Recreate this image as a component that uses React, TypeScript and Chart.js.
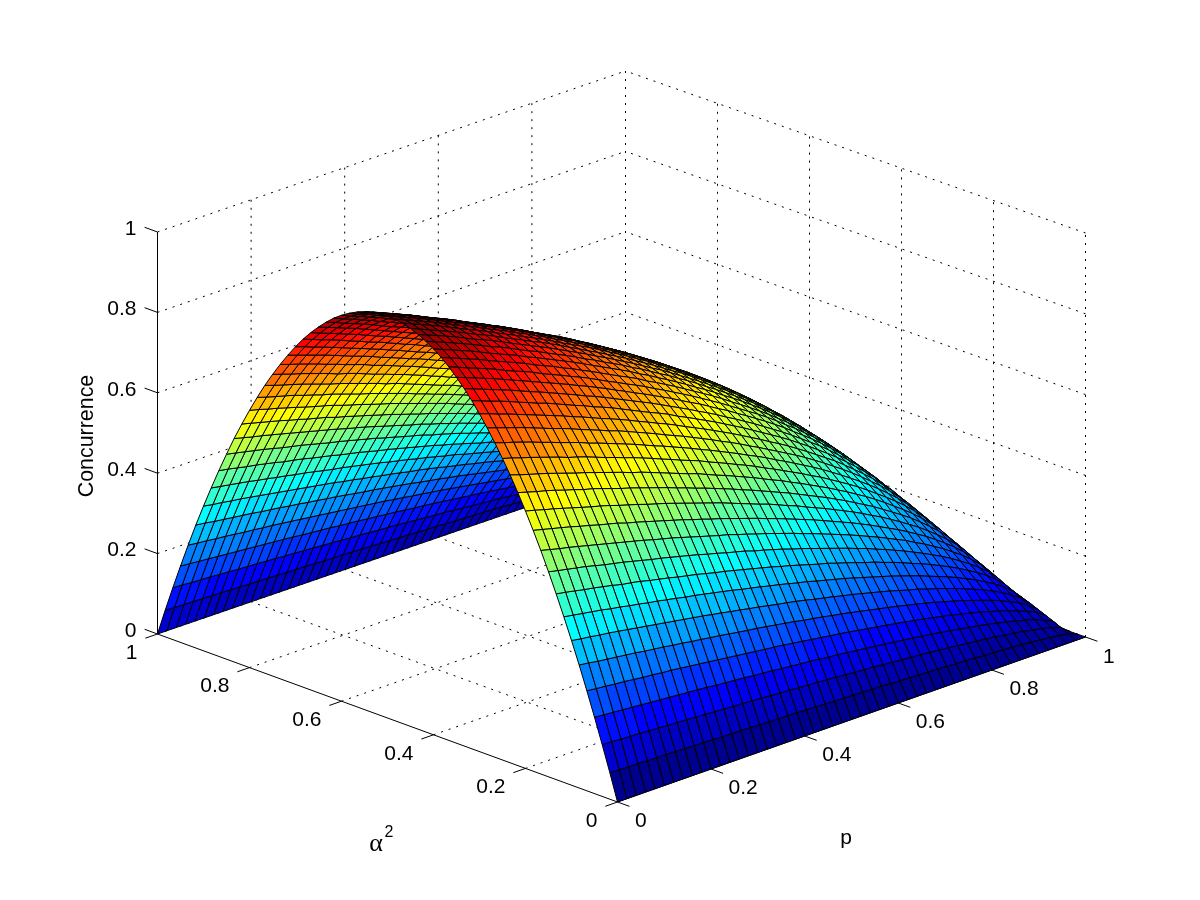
import React, { useEffect, useRef } from "react";
import { Chart, registerables } from "chart.js";

Chart.register(...registerables);

// Concurrence x 1000. Rows: alpha^2 = 0 .. 0.5 in steps of 1/60; columns: p = 0 .. 1 in steps of 0.02.
// Rows above alpha^2 = 0.5 mirror these, as the reference surface looks symmetric in alpha^2.
const concurrenceRows: number[][] = [
[0,0,0,0,0,0,0,0,0,0,0,0,0,0,0,0,0,0,0,0,0,0,0,0,0,0,0,0,0,0,0,0,0,0,0,0,0,0,0,0,0,0,0,0,0,0,0,0,0,0,0],
[66,65,64,64,63,62,62,61,60,59,59,58,57,56,56,55,54,53,52,52,51,50,49,48,47,46,45,44,43,43,41,40,39,38,37,36,35,33,32,31,29,28,26,25,23,21,19,16,13,9,0],
[129,128,126,125,124,122,121,119,118,117,115,114,112,111,109,108,106,105,103,101,100,98,96,95,93,91,89,87,85,84,81,79,77,75,73,71,68,66,63,60,58,55,52,48,45,41,36,32,26,18,0],
[190,188,186,184,182,180,178,176,174,172,170,168,166,163,161,159,157,154,152,150,147,145,142,140,137,134,132,129,126,123,120,117,114,111,108,104,101,97,93,89,85,81,76,71,66,60,54,47,38,27,0],
[249,246,244,241,239,236,233,231,228,226,223,220,217,214,211,208,205,202,199,196,193,190,186,183,179,176,172,169,165,161,157,153,149,145,141,136,132,127,122,117,111,106,100,93,86,79,70,61,50,35,0],
[306,303,299,296,293,290,287,283,280,277,273,270,266,263,259,256,252,248,244,241,237,233,229,225,220,216,212,207,203,198,193,188,183,178,173,167,162,156,150,143,137,130,122,114,106,97,86,75,61,43,0],
[360,356,353,349,346,342,338,334,330,326,322,318,314,310,306,301,297,292,288,283,279,274,269,265,260,255,249,244,239,233,228,222,216,210,204,197,190,184,176,169,161,153,144,135,125,114,102,88,72,51,0],
[412,408,404,400,396,391,387,382,378,373,369,364,359,354,350,345,340,335,330,324,319,314,308,303,297,291,286,279,273,267,261,254,247,240,233,226,218,210,202,193,184,175,165,154,143,130,117,101,82,58,0],
[462,458,453,448,444,439,434,428,424,419,413,408,403,397,392,387,381,375,370,364,358,352,346,340,333,327,320,313,306,300,292,285,277,269,262,253,245,236,226,217,207,196,185,173,160,146,131,113,92,65,0],
[510,505,500,495,490,484,478,473,468,462,456,450,445,439,433,427,421,414,408,401,395,389,381,375,368,361,353,346,338,330,322,314,306,297,289,279,270,260,250,239,228,216,204,191,176,161,144,125,102,72,0],
[556,550,544,539,533,527,521,515,509,503,497,491,484,478,472,465,458,451,444,437,431,423,416,408,401,393,385,377,368,360,351,342,333,324,314,304,294,283,272,261,248,236,222,208,192,176,157,136,111,78,0],
[599,593,587,581,575,568,562,555,549,543,535,529,522,515,508,501,494,486,479,471,464,456,448,440,432,423,415,406,397,388,379,369,359,349,339,328,317,305,293,281,268,254,240,224,207,189,169,147,120,84,0],
[640,634,627,621,614,607,600,593,587,580,572,565,558,550,543,536,528,520,512,504,496,488,479,470,461,452,444,434,424,415,404,394,384,373,362,351,339,326,314,300,286,271,256,239,221,202,181,157,128,90,0],
[679,672,665,659,652,644,637,629,623,615,607,599,592,584,576,568,560,551,543,534,526,517,508,499,489,480,470,460,450,440,429,418,407,396,384,372,359,346,333,318,303,288,272,254,235,215,192,166,136,96,0],
[716,708,701,694,687,679,671,663,656,648,640,632,624,615,608,599,590,581,572,563,555,545,535,526,516,506,496,485,474,464,452,441,429,417,405,392,379,365,351,336,320,303,286,268,248,226,203,175,143,101,0],
[750,743,735,728,720,712,704,695,688,680,671,662,654,645,637,628,619,609,600,590,581,572,561,551,541,530,520,509,497,486,474,462,450,437,425,411,397,383,368,352,335,318,300,281,260,237,212,184,150,106,0],
[782,774,767,759,751,742,734,725,717,709,699,691,682,673,664,655,645,635,626,616,606,596,585,575,564,553,542,530,519,507,494,482,469,456,443,429,414,399,383,367,350,332,313,293,271,247,221,192,156,110,0],
[812,804,796,788,780,771,762,753,745,736,726,717,708,698,690,680,670,660,650,639,629,619,608,597,586,574,563,551,538,526,513,500,487,474,460,445,430,414,398,381,363,344,325,304,281,257,230,199,162,115,0],
[840,832,823,815,806,797,788,779,770,761,751,742,732,722,713,703,693,682,672,661,651,640,628,617,606,594,582,570,557,544,531,517,504,490,475,460,444,428,412,394,375,356,336,314,291,265,238,206,168,118,0],
[866,857,848,840,831,821,812,802,794,784,774,764,755,744,735,725,714,703,692,681,671,660,647,636,624,612,600,587,574,561,547,533,519,505,490,474,458,441,424,406,387,367,346,324,299,274,245,212,173,122,0],
[889,880,871,862,853,844,834,824,815,805,795,785,775,764,755,744,733,722,711,700,689,677,665,653,641,628,616,603,589,576,562,548,533,518,503,487,470,453,436,417,397,377,356,332,308,281,252,218,178,125,0],
[910,901,892,883,874,864,854,844,834,824,814,804,794,783,773,762,751,739,728,716,705,693,681,669,656,643,631,617,603,590,575,561,546,531,515,499,481,464,446,427,407,386,364,340,315,288,258,223,182,128,0],
[929,920,910,901,892,882,871,861,852,842,830,820,810,799,789,778,766,754,743,731,720,708,695,683,670,657,644,630,616,602,587,572,557,542,526,509,491,474,455,436,415,394,372,347,321,294,263,228,186,131,0],
[946,936,927,917,908,897,887,877,867,857,845,835,825,813,803,791,780,768,756,744,733,721,707,695,682,669,655,641,627,613,598,582,567,551,535,518,500,482,463,443,423,401,378,354,327,299,268,232,189,133,0],
[960,950,941,931,922,911,900,890,880,870,858,848,837,826,815,804,792,780,768,756,744,732,718,706,692,679,665,651,636,622,607,591,576,560,543,526,508,490,470,450,429,407,384,359,332,303,272,235,192,135,0],
[972,962,953,943,933,923,912,901,892,881,869,858,848,836,825,814,802,789,778,765,753,741,727,715,701,687,674,659,645,630,614,599,583,567,550,533,514,496,476,456,435,412,389,364,336,307,275,238,194,137,0],
[982,972,963,953,943,932,921,911,901,890,878,867,856,845,834,822,810,798,786,773,761,748,735,722,708,694,681,666,651,636,621,605,589,573,556,538,520,501,481,461,439,416,393,367,340,310,278,241,196,138,0],
[990,980,970,960,950,940,929,918,908,897,885,874,863,851,841,829,817,804,792,779,767,754,741,728,714,700,686,671,656,642,626,610,594,577,560,543,524,505,485,464,443,420,396,370,343,313,280,243,198,140,0],
[996,986,976,966,956,945,934,923,913,902,890,879,868,856,845,833,821,808,796,784,772,759,745,732,718,704,690,675,660,645,629,613,597,580,564,546,527,508,488,467,445,422,398,372,344,315,282,244,199,140,0],
[999,989,979,969,959,948,937,926,916,905,893,882,871,859,848,836,824,811,799,786,774,761,747,734,720,706,692,677,662,647,631,615,599,582,565,547,528,509,489,468,447,424,400,374,346,316,283,245,200,141,0],
[1000,990,980,970,960,949,938,927,917,906,894,883,872,860,849,837,825,812,800,787,775,762,748,735,721,707,693,678,663,648,632,616,600,583,566,548,529,510,490,469,447,424,400,374,346,316,283,245,200,141,0],
];

const alphaCells = 60;
const pCells = 50;
const tickValues = [0, 0.2, 0.4, 0.6, 0.8, 1];
const tickLabels = ["0", "0.2", "0.4", "0.6", "0.8", "1"];
const zAxisTitle = "Concurrence";
const pAxisTitle = "p";
const alphaSymbol = "\u03b1";
const alphaExponent = "2";

// Projection of the 3D box on the x/y scales (axis length vectors of the box).
const project = (a: number, p: number, z: number) => ({
  x: 617.5 - 460 * a + 468 * p,
  y: 802 - 168 * a - 165 * p + 4 * a * p - (402 + 2 * p * (1 - a)) * z,
});
const depth = (a: number, p: number, z: number) => 428 * (a + p) - 158 * z;

const jet = (z: number) => {
  const idx = Math.min(63, Math.floor(z * 64));
  const t = (idx + 1) / 64;
  const c = (k: number) => Math.round(255 * Math.max(0, Math.min(1, 1.5 - Math.abs(4 * t - k))));
  return `rgb(${c(3)},${c(2)},${c(1)})`;
};

const zAt = (i: number, j: number) =>
  concurrenceRows[i <= alphaCells / 2 ? i : alphaCells - i][j] / 1000;

function buildQuads() {
  const quads: { d: number; ds: any }[] = [];
  for (let i = 0; i < alphaCells; i++) {
    for (let j = 0; j < pCells; j++) {
      const a0 = i / alphaCells, a1 = (i + 1) / alphaCells;
      const p0 = j / pCells, p1 = (j + 1) / pCells;
      const z00 = zAt(i, j), z10 = zAt(i + 1, j), z11 = zAt(i + 1, j + 1), z01 = zAt(i, j + 1);
      const pts = [project(a0, p0, z00), project(a1, p0, z10), project(a1, p1, z11), project(a0, p1, z01), project(a0, p0, z00)];
      quads.push({
        d: depth((a0 + a1) / 2, (p0 + p1) / 2, (z00 + z10 + z11 + z01) / 4),
        ds: {
          data: pts,
          showLine: true,
          fill: "shape",
          backgroundColor: jet(z00),
          borderColor: "#000",
          borderWidth: 1,
          pointRadius: 0,
          tension: 0,
        },
      });
    }
  }
  quads.sort((u, v) => u.d - v.d); // nearest first: Chart.js paints the first dataset last
  return quads.map((q) => q.ds);
}

const segment = (from: { x: number; y: number }, to: { x: number; y: number }, dotted: boolean) => ({
  data: [from, to],
  showLine: true,
  fill: false,
  borderColor: "#000",
  borderWidth: 1,
  borderDash: dotted ? [2, 6] : [],
  pointRadius: 0,
  tension: 0,
});

function buildAxes() {
  const out: any[] = [];
  out.push(segment(project(1, 0, 0), project(1, 0, 1), false));
  out.push(segment(project(0, 0, 0), project(1, 0, 0), false));
  out.push(segment(project(0, 0, 0), project(0, 1, 0), false));
  for (const t of tickValues) {
    out.push(segment(project(1, 0, t), project(1.028, 0, t), false));
    out.push(segment(project(t, 0, 0), project(t, -0.026, 0), false));
    out.push(segment(project(0, t, 0), project(-0.026, t, 0), false));
  }
  return out;
}

function buildGrid() {
  const out: any[] = [];
  for (const t of tickValues) {
    // Shared edges of the floor and the two walls are drawn once only.
    if (t > 0) out.push(segment(project(t, 0, 0), project(t, 1, 0), true));
    if (t > 0 && t < 1) out.push(segment(project(0, t, 0), project(1, t, 0), true));
    if (t > 0) out.push(segment(project(1, t, 0), project(1, t, 1), true));
    if (t < 1) out.push(segment(project(t, 1, 0), project(t, 1, 1), true));
    if (t > 0) out.push(segment(project(1, 0, t), project(1, 1, t), true));
    out.push(segment(project(0, 1, t), project(1, 1, t), true));
  }
  return out;
}

const labelPlugin = {
  id: "axisText",
  afterDraw(chart: any) {
    const { ctx, scales } = chart;
    const px = (q: { x: number; y: number }) => ({ x: scales.x.getPixelForValue(q.x), y: scales.y.getPixelForValue(q.y) });
    ctx.save();
    ctx.fillStyle = "#000";
    ctx.textBaseline = "middle";
    ctx.font = '21px "Liberation Sans"';
    tickValues.forEach((t, k) => {
      const zp = px(project(1, 0, t));
      ctx.textAlign = "right";
      ctx.fillText(tickLabels[k], zp.x - 21, zp.y - 3);
      const ap = px(project(t, 0, 0));
      ctx.fillText(tickLabels[k], ap.x - 20, ap.y + 19);
      const pp = px(project(0, t, 0));
      ctx.textAlign = "left";
      ctx.fillText(tickLabels[k], pp.x + 17.5, pp.y + 19 + (t === 1 ? 1.5 : 0));
    });
    ctx.textAlign = "center";
    ctx.fillText(pAxisTitle, scales.x.getPixelForValue(846), scales.y.getPixelForValue(838));
    ctx.save();
    ctx.translate(scales.x.getPixelForValue(87), scales.y.getPixelForValue(436));
    ctx.rotate(-Math.PI / 2);
    ctx.font = '21.4px "Liberation Sans"';
    ctx.fillText(zAxisTitle, 0, 0);
    ctx.restore();
    ctx.font = '26px "Liberation Serif"';
    ctx.fillText(alphaSymbol, scales.x.getPixelForValue(376), scales.y.getPixelForValue(844));
    ctx.font = '16px "Liberation Sans"';
    ctx.fillText(alphaExponent, scales.x.getPixelForValue(389), scales.y.getPixelForValue(833));
    ctx.restore();
  },
};

export default function App() {
  const ref = useRef<HTMLCanvasElement>(null);
  useEffect(() => {
    const chart = new Chart(ref.current as HTMLCanvasElement, {
      type: "scatter",
      data: { datasets: [...buildQuads(), ...buildAxes(), ...buildGrid()] },
      options: {
        animation: false,
        responsive: false,
        events: [],
        layout: { padding: 0 },
        plugins: { legend: { display: false }, tooltip: { enabled: false } },
        scales: {
          x: { type: "linear", min: 0, max: 1200, display: false },
          y: { type: "linear", min: 0, max: 900, reverse: true, display: false },
        },
      },
      plugins: [labelPlugin],
    } as any);
    return () => chart.destroy();
  }, []);
  return (
    <div style={{ position: "absolute", left: 0, top: 0, width: 1200, height: 900, background: "#fff" }}>
      <canvas ref={ref} width={1200} height={900} style={{ display: "block" }} />
    </div>
  );
}
